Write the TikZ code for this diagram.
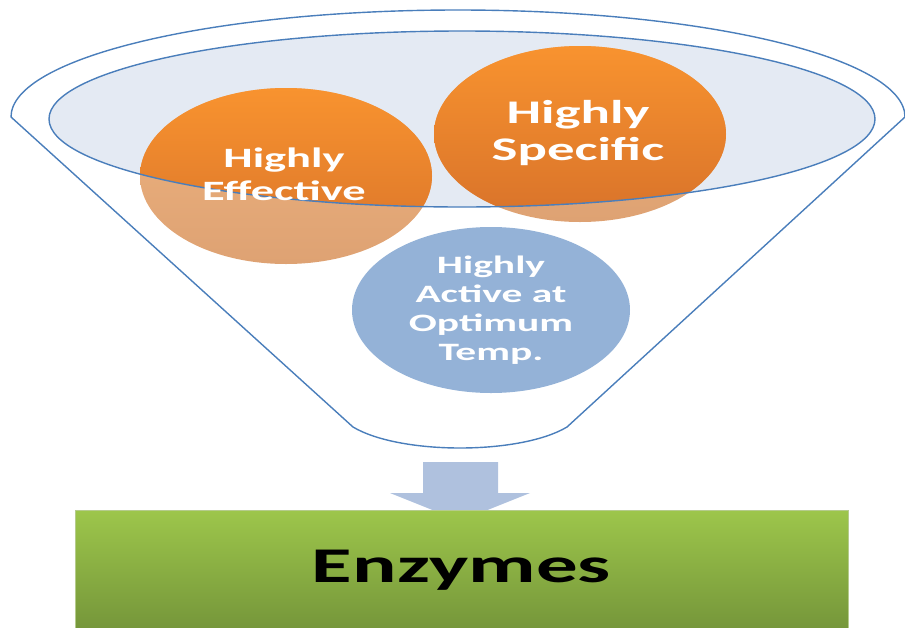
\documentclass[tikz,border=0pt]{standalone}
\usepackage{fontspec}
\usepackage{tikz}
\usetikzlibrary{shapes.geometric}
\newfontfamily\widesans[FakeStretch=1.66]{Carlito}
\definecolor{funnelline}{HTML}{4A7EBB}
\definecolor{mouthfill}{HTML}{E4EAF3}
\definecolor{orangetop}{HTML}{F8932F}
\definecolor{orangebot}{HTML}{D8722A}
\definecolor{paletop}{HTML}{EEB37F}
\definecolor{palebot}{HTML}{DEA273}
\definecolor{tempblue}{HTML}{94B2D7}
\definecolor{arrowblue}{HTML}{AFC1DE}
\definecolor{greentop}{HTML}{9DC64B}
\definecolor{greenbot}{HTML}{75963A}
\definecolor{greenedge}{HTML}{B5CB8C}

\begin{document}
\begin{tikzpicture}[x=1pt, y=-1pt,
    funnel/.style={draw=funnelline, line width=1.4pt},
    bubble/.style={ellipse, minimum width=292pt, minimum height=176pt, inner sep=0pt},
    bubbletext/.style={text=white, align=center}]
\useasboundingbox (0,0) rectangle (905,627);
\draw[funnel] (11,117) arc[start angle=180, end angle=360, x radius=447, y radius=107]
    -- (567,427) .. controls (520,455) and (400,455) .. (353,427) -- cycle;
\node[ellipse, fill=mouthfill, minimum width=826pt, minimum height=176pt, inner sep=0pt] (mouth) at (462,119) {};
\node[bubble, top color=paletop, bottom color=palebot] (effective) at (286,176) {};
\node[bubble, top color=paletop, bottom color=palebot] (specific) at (580,134) {};
\node[bubble, fill=tempblue, minimum width=278pt, minimum height=166pt, bubbletext,
    font=\widesans\bfseries\fontsize{25}{29}\selectfont] (optimum) at (491,310)
    {Highly\\Active at\\Optimum\\Temp.};
\begin{scope}
\clip (mouth.center) ellipse [x radius=413, y radius=88];
\foreach \b in {effective, specific}
    \shade[top color=orangetop, bottom color=orangebot] (\b.center) ellipse [x radius=146, y radius=88];
\end{scope}
\draw[funnel] (mouth.center) ellipse [x radius=413, y radius=88];
\node[bubbletext, font=\widesans\bfseries\fontsize{28}{33}\selectfont] (effectivelbl) at (284,174) {Highly\\Effective};
\node[bubbletext, font=\widesans\bfseries\fontsize{33}{37}\selectfont] (specificlbl) at (578,133) {Highly\\Specific};
\fill[arrowblue] (423,462) -- (498,462) -- (498,493) -- (530,493) -- (460,521) -- (390,493) -- (423,493) -- cycle;
\node[draw=greenedge, line width=0.8pt, top color=greentop, bottom color=greenbot,
    minimum width=773pt, minimum height=120pt, font=\widesans\bfseries\fontsize{50}{56}\selectfont] (enzymes) at (461.5,570) {Enzymes};
\end{tikzpicture}
\end{document}
